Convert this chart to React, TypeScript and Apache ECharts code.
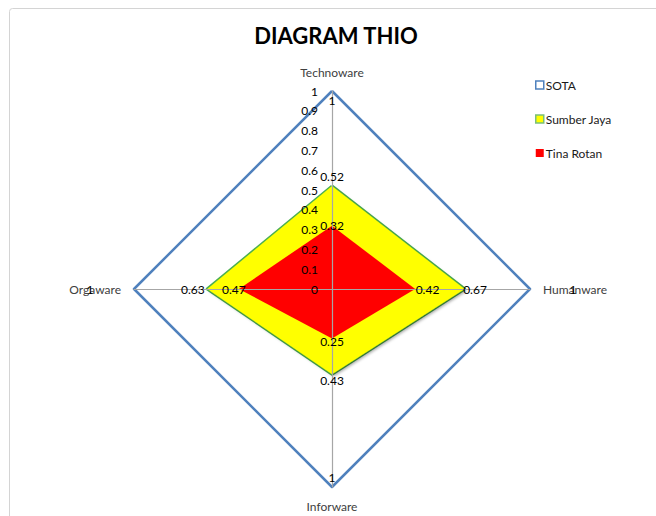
import React, { useEffect, useRef } from "react";
import * as echarts from "echarts";

// Axes in ECharts radar order (counter-clockwise from top)
const categories = ["Technoware", "Orgaware", "Inforware", "Humanware"];
const seriesNames = ["SOTA", "Sumber Jaya", "Tina Rotan"];
const sotaValues = [1, 1, 1, 1];
const sumberJayaValues = [0.52, 0.63, 0.43, 0.67];
const tinaRotanValues = [0.32, 0.47, 0.25, 0.42];
const axisMin = 0;
const axisMax = 1;

const FONT = "Lato, 'Open Sans', sans-serif";

type LabelPos = { position: string; distance?: number; offset?: number[] };

const sotaLabelPos: LabelPos[] = [
  { position: "bottom", distance: 3 },
  { position: "inside", offset: [-44, 0] },
  { position: "top", distance: 3 },
  { position: "inside", offset: [43, 0] },
];
const sumberLabelPos: LabelPos[] = [
  { position: "top", distance: 3 },
  { position: "left", distance: 2 },
  { position: "bottom", distance: 0 },
  { position: "right", distance: -2 },
];
const tinaLabelPos: LabelPos[] = [
  { position: "inside" },
  { position: "inside", offset: [-5, 0] },
  { position: "inside", offset: [0, 3] },
  { position: "right", distance: 0 },
];

function labelItems(name: string, values: number[], pos: LabelPos[]) {
  return values.map((v, k) => ({
    name: name + " label " + k,
    value: values.map((_, j) => (j === k ? v : 0)),
    symbol: "circle",
    symbolSize: 1,
    itemStyle: { color: "rgba(0,0,0,0)" },
    lineStyle: { width: 0, color: "rgba(0,0,0,0)" },
    label: {
      show: true,
      position: pos[k].position,
      distance: pos[k].distance ?? 5,
      offset: pos[k].offset ?? [0, 0],
      color: "#000",
      fontSize: 12,
      fontFamily: FONT,
      formatter: (p: any) => (p.value === 0 ? "" : String(p.value)),
    },
  }));
}

export default function App() {
  const ref = useRef<HTMLDivElement>(null);

  useEffect(() => {
    if (!ref.current) return;
    const chart = echarts.init(ref.current, null, { renderer: "svg" });
    const option: any = {
      animation: false,
      backgroundColor: "#fff",
      graphic: [
        {
          type: "rect",
          shape: { x: 9.5, y: 8.5, width: 700, height: 600, r: 3 },
          style: { fill: "none", stroke: "#d4d4d4", lineWidth: 1 },
          silent: true,
        },
        {
          type: "text",
          style: {
            text: "DIAGRAM THIO",
            x: 336,
            y: 35,
            align: "center",
            verticalAlign: "middle",
            font: "bold 22px " + FONT,
            fill: "#000",
          },
        },
      ],
      legend: {
        orient: "vertical",
        left: 530,
        top: 74,
        itemWidth: 8,
        itemHeight: 8,
        itemGap: 22,
        icon: "rect",
        textStyle: { fontSize: 12, color: "#1a1a1a", fontFamily: FONT, padding: [0, 0, 0, -3] },
        data: [
          { name: seriesNames[0], itemStyle: { color: "#fff", borderColor: "#4F81BD", borderWidth: 1.5 } },
          { name: seriesNames[1], itemStyle: { color: "#FFFF00", borderColor: "#7ac07a", borderWidth: 1.5 } },
          { name: seriesNames[2], itemStyle: { color: "#FF0000", borderWidth: 0 } },
        ],
      },
      radar: {
        z: 3,
        center: [332, 289],
        radius: 198,
        startAngle: 90,
        shape: "polygon",
        splitNumber: 10,
        nameGap: 13,
        indicator: categories.map((name, i) => ({
          name,
          min: axisMin,
          max: axisMax,
          axisLabel: { show: i === 0 },
        })),
        axisName: { color: "#404040", fontSize: 12, fontFamily: FONT },
        splitLine: { show: false },
        splitArea: { show: false },
        axisLine: { lineStyle: { color: "#a6a6a6", width: 1.2 } },
        axisTick: { show: false },
        axisLabel: {
          show: true,
          color: "#000",
          fontSize: 12,
          fontFamily: FONT,
          margin: 14,
        },
      },
      series: [
        {
          type: "radar",
          symbol: "none",
          data: [
            {
              name: seriesNames[0],
              value: sotaValues,
              lineStyle: { color: "#4F81BD", width: 2.5 },
              itemStyle: { color: "#4F81BD" },
            },
            {
              name: seriesNames[1],
              value: sumberJayaValues,
              lineStyle: { color: "#4CAF50", width: 3 },
              itemStyle: { color: "#FFFF00" },
              areaStyle: {
                color: "#FFFF00",
                opacity: 1,
                shadowBlur: 3,
                shadowColor: "rgba(0,0,0,0.35)",
                shadowOffsetX: 2,
                shadowOffsetY: 2,
              },
            },
            {
              name: seriesNames[2],
              value: tinaRotanValues,
              lineStyle: { width: 0, color: "#FF0000" },
              itemStyle: { color: "#FF0000" },
              areaStyle: { color: "#FF0000", opacity: 1 },
            },
          ],
        },
        {
          type: "radar",
          silent: true,
          z: 4,
          data: [
            ...labelItems(seriesNames[0], sotaValues, sotaLabelPos),
            ...labelItems(seriesNames[1], sumberJayaValues, sumberLabelPos),
            ...labelItems(seriesNames[2], tinaRotanValues, tinaLabelPos),
          ],
        },
      ],
    };
    chart.setOption(option);
    return () => chart.dispose();
  }, []);

  return (
    <div
      ref={ref}
      style={{ position: "fixed", left: 0, top: 0, width: 656, height: 516 }}
    />
  );
}
